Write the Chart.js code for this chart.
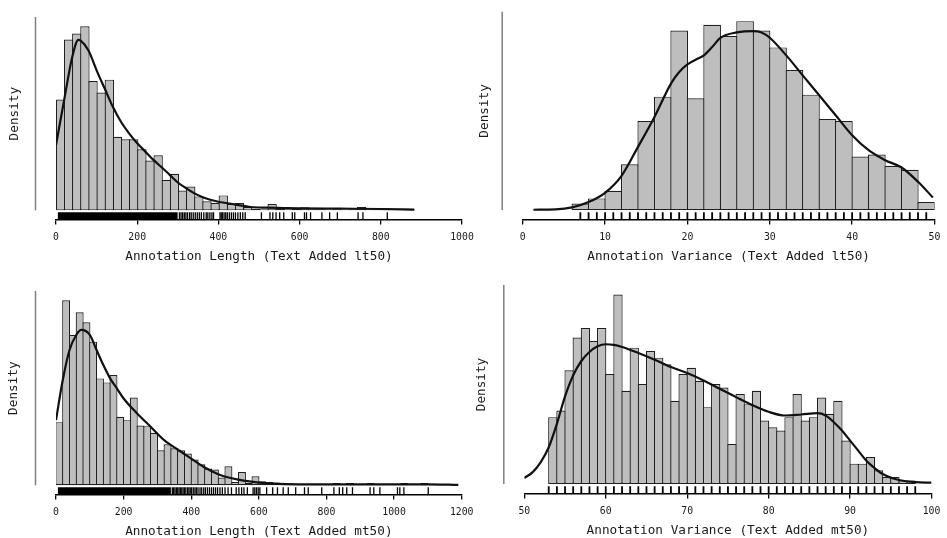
<!DOCTYPE html>
<html>
<head>
<meta charset="utf-8">
<title>Annotation length and variance</title>
<script src="https://cdn.jsdelivr.net/npm/chart.js@4.4.0/dist/chart.umd.min.js"></script>
<style>
    html, body { margin: 0; padding: 0; background: #fff; overflow: hidden; }
    #figure { position: relative; width: 947px; height: 538px; }
    #figure canvas { position: absolute; left: 0; top: 0; }
</style>
</head>
<body>
<div id="figure">
    <canvas id="len-lt50" width="947" height="560"></canvas>
    <canvas id="var-lt50" width="947" height="560"></canvas>
    <canvas id="len-mt50" width="947" height="560"></canvas>
    <canvas id="var-mt50" width="947" height="560"></canvas>
</div>
<script>
// ---- Annotation length, text added lt50 ----
const lenLtBinStart = 1;
const lenLtBinWidth = 20.05;
const lenLtDensity = [
    0.003445, 0.005312, 0.005498, 0.005725, 0.004023, 0.003662, 0.004064, 0.002290, 0.002207, 0.002207,
    0.001898, 0.001547, 0.001712, 0.000949, 0.001135, 0.000619, 0.000743, 0.000433, 0.000279, 0.000227,
    0.000464, 0.000196, 0.000227, 0.000103, 0.000052, 0.000031, 0.000196, 0.000052, 0.000031, 0.000052,
    0.000093, 0.000031, 0.000031, 0.000021, 0.000031, 0.000021, 0.000031, 0.000103, 0.000021, 0.000021,
    0.000062, 0, 0, 0.000031
];
const lenLtKdeX = [0, 20, 40, 55, 60, 80, 100, 120, 140, 160, 180, 200, 220, 240, 260, 280, 300, 320, 340, 360,
    380, 400, 440, 480, 520, 560, 600, 700, 800, 882];
const lenLtKdeY = [0.002032, 0.003425, 0.004766, 0.005302, 0.005281, 0.004972, 0.004353, 0.003786, 0.003218, 0.002754,
    0.002393, 0.002084, 0.001826, 0.001568, 0.001341, 0.001104, 0.000866, 0.000691, 0.000536, 0.000413,
    0.000330, 0.000268, 0.000186, 0.000103, 0.000083, 0.000072, 0.000062, 0.000052, 0.000041, 0.000021];
const lenLtRugSolid = [4, 300];
const lenLtRug = [304, 308, 312, 316, 320, 324, 329, 333, 338, 343, 348, 353, 358, 364, 370, 374, 379, 384, 388,
    404, 407, 410, 414, 418, 422, 427, 432, 437, 442, 448, 454, 460, 466,
    506, 527, 534, 542, 551, 561, 582, 588, 612, 617, 627, 655, 674, 693, 744, 756, 816];
const lenLtTicks = [0, 200, 400, 600, 800, 1000];

// ---- Annotation variance, text added lt50 ----
const varLtBinStart = 6;
const varLtBinWidth = 2;
const varLtDensity = [0.00158, 0.00277, 0.00458, 0.01090, 0.02117, 0.02694, 0.04266, 0.02654, 0.04400, 0.04132,
    0.04487, 0.04266, 0.03863, 0.03326, 0.02741, 0.02165, 0.02117, 0.01272, 0.01319, 0.01051, 0.00956, 0.00190];
const varLtKdeX = [1.3, 4, 6, 8, 10, 12, 14, 16, 18, 19, 20, 21, 22, 23, 24, 26, 28, 29, 30, 32, 34, 36, 38, 40,
    42, 44, 46, 48, 49.8];
const varLtKdeY = [0.00008, 0.00016, 0.00063, 0.00190, 0.00411, 0.00814, 0.01501, 0.02212, 0.03002, 0.03279,
    0.03460, 0.03571, 0.03674, 0.03871, 0.04092, 0.04219, 0.04250, 0.04219, 0.04092, 0.03674, 0.03200, 0.02726,
    0.02252, 0.01778, 0.01422, 0.01185, 0.01011, 0.00672, 0.00300];
const varLtRug = [7, 8, 9, 10, 11, 12, 13, 14, 15, 16, 17, 18, 19, 20, 21, 22, 23, 24, 25, 26, 27, 28, 29, 30,
    31, 32, 33, 34, 35, 36, 37, 38, 39, 40, 41, 42, 43, 44, 45, 46, 47, 48, 49];
const varLtTicks = [0, 10, 20, 30, 40, 50];

// ---- Annotation length, text added mt50 ----
const lenMtBinStart = 0;
const lenMtBinWidth = 20;
const lenMtDensity = [
    0.001632, 0.004782, 0.003885, 0.004472, 0.004213, 0.003712, 0.002762, 0.002659, 0.002849, 0.001770,
    0.001683, 0.002270, 0.001545, 0.001528, 0.001355, 0.000906, 0.001062, 0.000958, 0.000906, 0.000820,
    0.000665, 0.000544, 0.000432, 0.000406, 0.000199, 0.000492, 0.000086, 0.000345, 0.000060, 0.000233,
    0.000104, 0.000086, 0.000069, 0.000035, 0.000035, 0.000026, 0.000026, 0.000026, 0.000017, 0.000026,
    0.000017, 0.000060, 0, 0.000060, 0, 0, 0.000060, 0, 0, 0,
    0, 0.000060, 0, 0, 0.000060
];
const lenMtKdeX = [0, 20, 40, 60, 75, 100, 120, 140, 160, 180, 200, 240, 280, 320, 360, 400, 440, 480, 520, 560,
    600, 640, 720, 800, 900, 1000, 1100, 1190];
const lenMtKdeY = [0.001683, 0.002719, 0.003496, 0.003885, 0.004014, 0.003885, 0.003496, 0.003108, 0.002762, 0.002503,
    0.002244, 0.001856, 0.001511, 0.001165, 0.000924, 0.000691, 0.000458, 0.000285, 0.000181, 0.000112,
    0.000069, 0.000043, 0.000026, 0.000026, 0.000026, 0.000026, 0.000026, 0.000009];
const lenMtRugSolid = [5, 340];
const lenMtRug = [344, 348, 352, 356, 360, 364, 368, 372, 376, 380, 384, 389, 393, 397, 401, 406, 411, 415, 420,
    426, 431, 437, 442, 448, 454, 460, 466, 472, 478, 485, 492, 500, 509, 519, 533, 541, 549, 556, 566,
    583, 588, 593, 598, 603, 623, 641, 655, 672, 687, 709, 735, 746, 786, 822, 838, 848, 860, 877,
    929, 940, 958, 1010, 1017, 1029, 1101];
const lenMtTicks = [0, 200, 400, 600, 800, 1000, 1200];

// ---- Annotation variance, text added mt50 ----
const varMtBinStart = 53;
const varMtBinWidth = 1;
const varMtDensity = [0.01807, 0.01987, 0.03071, 0.03956, 0.04218, 0.03866, 0.04218, 0.02972, 0.05121, 0.02520,
    0.03685, 0.02701, 0.03595, 0.03414, 0.03234, 0.02249, 0.02972, 0.03143, 0.02791, 0.02077,
    0.02701, 0.02610, 0.01084, 0.02430, 0.02159, 0.02520, 0.01716, 0.01536, 0.01445, 0.01807,
    0.02430, 0.01716, 0.01807, 0.02339, 0.01897, 0.02249, 0.01174, 0.00551, 0.00551, 0.00732,
    0.00370, 0.00190, 0.00190, 0.00099, 0.00099];
const varMtKdeX = [50, 51, 52, 53, 54, 55, 56, 57, 58, 59, 60, 61, 62, 64, 66, 68, 70, 72, 74, 76, 78, 80,
    82, 84, 86, 87, 88, 89, 90, 91, 92, 93, 94, 96, 98, 100];
const varMtKdeY = [0.00163, 0.00316, 0.00587, 0.00994, 0.01626, 0.02367, 0.02936, 0.03324, 0.03568, 0.03721,
    0.03776, 0.03758, 0.03703, 0.03541, 0.03360, 0.03161, 0.02999, 0.02800, 0.02574, 0.02348, 0.02132, 0.01951,
    0.01852, 0.01879, 0.01915, 0.01852, 0.01671, 0.01445, 0.01174, 0.00903, 0.00632, 0.00434, 0.00271,
    0.00108, 0.00054, 0.00036];
const varMtRug = [53, 54, 55, 56, 57, 58, 59, 60, 61, 62, 63, 64, 65, 66, 67, 68, 69, 70, 71, 72, 73, 74, 75,
    76, 77, 78, 79, 80, 81, 82, 83, 84, 85, 86, 87, 88, 89, 90, 91, 92, 93, 94, 95, 96, 97, 98];
const varMtTicks = [50, 60, 70, 80, 90, 100];

// Canvas is a bit taller than the page so the bottom axis titles fit
const CANVAS_W = 947;
const CANVAS_H = 560;
const EDGE = 1.2;          // histogram edge width
const SPINE_OFFSET = 20.5; // left spine sits away from the data

// Vertical spine plus the rotated "Density" label
const densitySpine = {
    id: 'densitySpine',
    afterDraw(chart, args, opts) {
        const {ctx, chartArea, scales} = chart;
        const y = scales.y;
        const top = y.getPixelForValue(y.max);
        const zero = y.getPixelForValue(0);
        const x = chartArea.left - SPINE_OFFSET;

        ctx.save();
        ctx.strokeStyle = '#7f7f7f';
        ctx.lineWidth = 1.5;
        ctx.beginPath();
        ctx.moveTo(x, top);
        ctx.lineTo(x, zero);
        ctx.stroke();

        ctx.translate(opts.labelX, (top + zero) / 2);
        ctx.rotate(-Math.PI / 2);
        ctx.font = '12.7px "DejaVu Sans Mono"';
        ctx.fillStyle = '#1a1a1a';
        ctx.textAlign = 'center';
        ctx.textBaseline = 'middle';
        ctx.fillText('Density', 0, 0);
        ctx.restore();
    }
};

Chart.defaults.font.family = '"DejaVu Sans Mono", monospace';
Chart.defaults.color = '#1a1a1a';

function drawPanel(id, p, frame) {
    const yMax = Math.max(...p.density) * 1.05;
    const yMin = -0.05 * yMax;
    const xMin = p.ticks[0];
    const xMax = p.ticks[p.ticks.length - 1];

    const bins = p.density.map((d, i) => ({x: p.binStart + p.binWidth * (i + 0.5), y: d}));
    const kde = p.kdeX.map((x, i) => ({x: x, y: p.kdeY[i]}));
    const rugY = yMin * 0.575;
    const rug = p.rug.map(v => ({x: v, y: rugY}));

    // widen bars by one edge so neighbouring outlines overlap instead of doubling
    const binPx = p.binWidth * (frame.right - frame.left) / (xMax - xMin);

    const datasets = [
        {
            type: 'line',
            data: kde,
            borderColor: '#111',
            borderWidth: 2.2,
            pointRadius: 0,
            cubicInterpolationMode: 'monotone',
            fill: false,
            order: 0
        },
        {
            type: 'scatter',
            data: rug,
            pointStyle: 'line',
            rotation: 90,
            radius: 3.6,
            borderColor: '#000',
            borderWidth: p.rugWidth,
            order: 1
        },
        {
            type: 'bar',
            data: bins,
            backgroundColor: '#bebebe',
            borderColor: '#1f1f1f',
            borderWidth: EDGE,
            borderSkipped: false,
            inflateAmount: 0,
            categoryPercentage: 1,
            barPercentage: 1 + EDGE / binPx,
            order: 3
        }
    ];

    if (p.rugSolid) {
        datasets.push({
            type: 'line',
            data: [{x: p.rugSolid[0], y: yMin * 0.2}, {x: p.rugSolid[1], y: yMin * 0.2}],
            borderColor: 'rgba(0,0,0,0)',
            backgroundColor: '#000',
            pointRadius: 0,
            fill: {value: yMin * 0.95},
            order: 2
        });
    }

    new Chart(document.getElementById(id), {
        type: 'bar',
        data: {datasets: datasets},
        options: {
            responsive: false,
            animation: false,
            devicePixelRatio: 1,
            events: [],
            layout: {
                padding: {
                    left: frame.left,
                    right: CANVAS_W - frame.right,
                    top: frame.top,
                    bottom: CANVAS_H - frame.bottom - 43.43
                }
            },
            plugins: {
                legend: {display: false},
                tooltip: {enabled: false},
                densitySpine: {labelX: frame.labelX}
            },
            scales: {
                x: {
                    type: 'linear',
                    min: xMin,
                    max: xMax,
                    offset: false,
                    afterBuildTicks: axis => {
                        axis.ticks = p.ticks.map(v => ({value: v}));
                    },
                    ticks: {
                        autoSkip: false,
                        maxRotation: 0,
                        minRotation: 0,
                        padding: 6.6,
                        color: '#1a1a1a',
                        font: {size: 9.8},
                        callback: v => String(v)
                    },
                    grid: {
                        display: true,
                        offset: false,
                        drawOnChartArea: false,
                        drawTicks: true,
                        tickLength: 4.5,
                        color: '#000',
                        lineWidth: 1.3
                    },
                    border: {display: true, color: '#000', width: 1.4},
                    title: {
                        display: true,
                        text: p.title,
                        color: '#1a1a1a',
                        font: {size: 12.7, lineHeight: 1.1},
                        padding: {top: 0, bottom: 0}
                    }
                },
                y: {
                    display: false,
                    min: yMin,
                    max: yMax
                }
            }
        },
        plugins: [densitySpine]
    });
}

document.addEventListener('DOMContentLoaded', function() {
    drawPanel('len-lt50', {
        title: 'Annotation Length (Text Added lt50)',
        binStart: lenLtBinStart, binWidth: lenLtBinWidth, density: lenLtDensity,
        kdeX: lenLtKdeX, kdeY: lenLtKdeY, rug: lenLtRug, rugSolid: lenLtRugSolid, ticks: lenLtTicks,
        rugWidth: 1.3
    }, {left: 56, right: 462, top: 17, bottom: 220, labelX: 14.3});

    drawPanel('var-lt50', {
        title: 'Annotation Variance (Text Added lt50)',
        binStart: varLtBinStart, binWidth: varLtBinWidth, density: varLtDensity,
        kdeX: varLtKdeX, kdeY: varLtKdeY, rug: varLtRug, ticks: varLtTicks,
        rugWidth: 1.8
    }, {left: 522.7, right: 938.3, top: 11.7, bottom: 220, labelX: 485});

    drawPanel('len-mt50', {
        title: 'Annotation Length (Text Added mt50)',
        binStart: lenMtBinStart, binWidth: lenMtBinWidth, density: lenMtDensity,
        kdeX: lenMtKdeX, kdeY: lenMtKdeY, rug: lenMtRug, rugSolid: lenMtRugSolid, ticks: lenMtTicks,
        rugWidth: 1.3
    }, {left: 56, right: 461.7, top: 291, bottom: 495, labelX: 14});

    drawPanel('var-mt50', {
        title: 'Annotation Variance (Text Added mt50)',
        binStart: varMtBinStart, binWidth: varMtBinWidth, density: varMtDensity,
        kdeX: varMtKdeX, kdeY: varMtKdeY, rug: varMtRug, ticks: varMtTicks,
        rugWidth: 1.8
    }, {left: 524.3, right: 939.3, top: 285, bottom: 494, labelX: 481.7});
});
</script>
</body>
</html>
